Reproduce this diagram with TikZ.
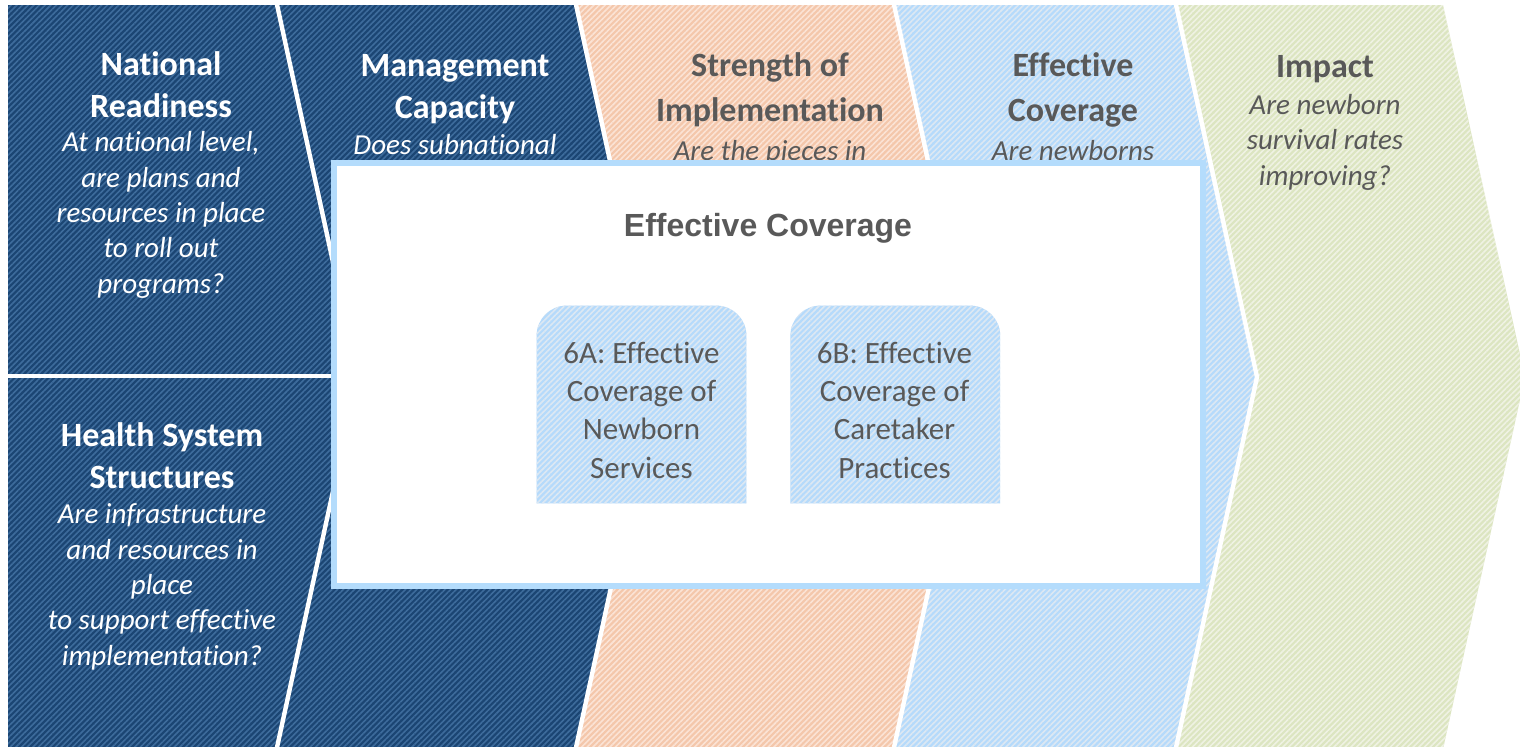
\documentclass[tikz,border=0pt]{standalone}
\usepackage{fontspec}
\setmainfont{Carlito}[Ligatures=NoCommon]
\newfontfamily\arialfont{Liberation Sans}
\usetikzlibrary{patterns.meta,positioning}
\definecolor{navy}{HTML}{1B4573}
\definecolor{navyline}{HTML}{3E6C9C}
\definecolor{peach}{HTML}{F4C7AB}
\definecolor{peachline}{HTML}{FBE3D5}
\definecolor{skyblue}{HTML}{B5DAFB}
\definecolor{skyline}{HTML}{DCE8F3}
\definecolor{sage}{HTML}{DCE5C1}
\definecolor{sageline}{HTML}{EFF2E3}
\definecolor{textgray}{HTML}{595959}
\definecolor{boxline}{HTML}{B4DCFC}
\tikzset{
  hatch/.style 2 args={preaction={fill=#1},pattern={Lines[angle=45,distance=2pt,line width=0.8pt]},pattern color=#2},
  gap/.style={draw=white,line width=2.2pt},
  head/.style={font=\fontsize{17}{21}\selectfont\bfseries,align=center,inner sep=0pt,anchor=base},
  question/.style={font=\fontsize{14.5}{17.65}\selectfont\itshape,align=center,inner sep=0pt,anchor=base},
  subtext/.style={font=\fontsize{15.5}{19.15}\selectfont,text=textgray,align=center,inner sep=0pt,anchor=base},
}
\begin{document}
\begin{tikzpicture}[x=0.5pt,y=-0.5pt]
  \clip (0,0) rectangle (1520,746);
  \fill[white] (0,0) rectangle (1520,746);

  \path[hatch={navy}{navyline}] (8,5) -- (276,5) -- (358,377) -- (276,749) -- (8,749) -- cycle;
  \foreach \l/\r/\c/\s in {276/575/navy/navyline, 575/893/peach/peachline, 893/1175/skyblue/skyline, 1175/1443/sage/sageline}
    \path[hatch={\c}{\s}] (\l,5) -- (\r,5) -- (\r+82,377) -- (\r,749) -- (\l,749) -- (\l+82,377) -- cycle;
  \foreach \r in {276,575,893,1175}
    \draw[gap] (\r,0) -- (\r+82,377) -- (\r,752);
  \draw[gap] (8,376) -- (358,376);

  % base anchor sits on the last line
  \node[head,text=white] (nat) at (161,117) {National\\Readiness};
  \node[question,text=white] (natq) at (161,293) {At national level,\\are plans and\\resources in place\\to roll out\\programs?};
  \node[head,text=white] (hss) at (162,488) {Health System\\Structures};
  \node[question,text=white] (hssq) at (162,665) {Are infrastructure\\and resources in\\place\\to support effective\\implementation?};
  \node[head,text=white] (mgmt) at (455,118) {Management\\Capacity};
  \node[question,text=white] (mgmtq) at (455,154) {Does subnational};
  \node[head,text=textgray] (strength) at (770,121) {Strength of\\[1.5pt]Implementation};
  \node[question,text=textgray] (strengthq) at (770,160) {Are the pieces in};
  \node[head,text=textgray] (effcov) at (1073,121) {Effective\\[1.5pt]Coverage};
  \node[question,text=textgray] (effcovq) at (1073,160) {Are newborns};
  \node[head,text=textgray] (impact) at (1325,77) {Impact};
  \node[question,text=textgray] (impactq) at (1325,185) {Are newborn\\survival rates\\improving?};

  \node[draw=boxline,fill=white,line width=3pt,inner sep=0pt,minimum width=434.5pt,minimum height=211.5pt] (covbox) at (768.5,374.5) {};
  \node[font=\arialfont\bfseries\fontsize{16}{19}\selectfont,text=textgray,anchor=base] (covtitle) at (768,236) {Effective Coverage};

  \node[inner sep=0pt,minimum width=104.5pt,minimum height=98.5pt] (sixa) at (641.5,404.5) {};
  \node[inner sep=0pt,minimum width=104.5pt,minimum height=98.5pt,right=22pt of sixa] (sixb) {};
  \foreach \b in {sixa,sixb}
    \path[hatch={skyblue}{skyline}] (\b.south west) [rounded corners=15pt] -- (\b.north west) -- (\b.north east) [sharp corners] -- (\b.south east) -- cycle;
  \node[subtext] (sixatext) at (641.5,478) {6A: Effective\\Coverage of\\Newborn\\Services};
  \node[subtext] (sixbtext) at (894.5,478) {6B: Effective\\Coverage of\\Caretaker\\Practices};
\end{tikzpicture}
\end{document}
